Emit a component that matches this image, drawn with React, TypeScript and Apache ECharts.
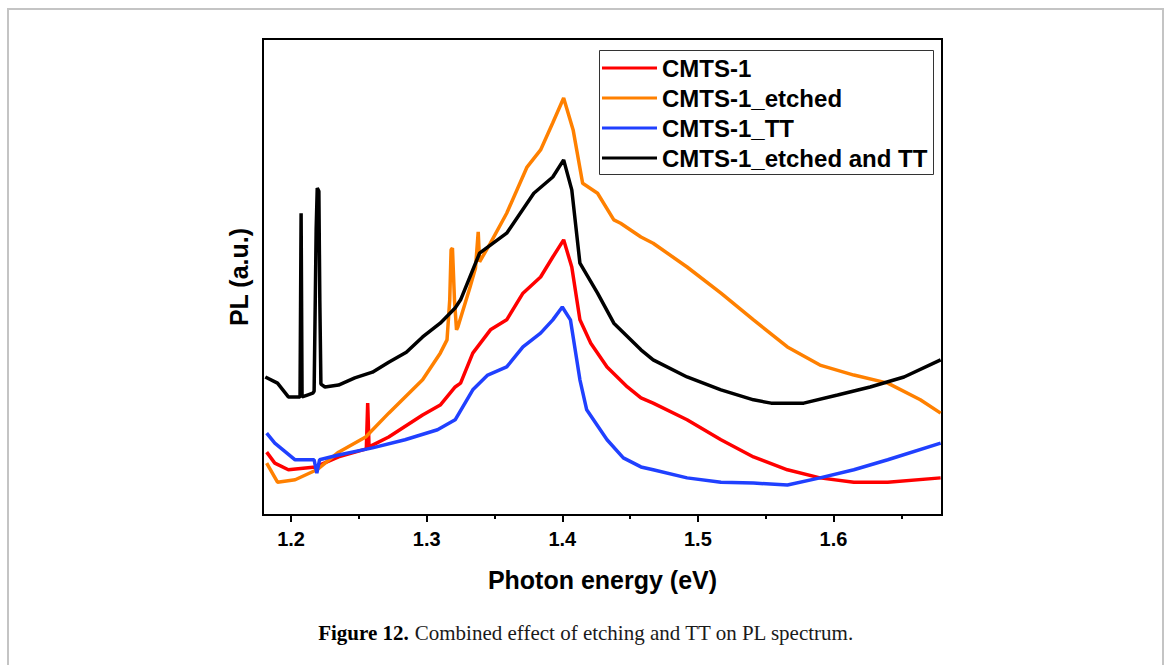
import React, { useEffect, useRef } from "react";
import * as echarts from "echarts";

// ---- data (photon energy in eV, PL in arbitrary units 0-100) ----
const seriesNames = ["CMTS-1", "CMTS-1_etched", "CMTS-1_TT", "CMTS-1_etched and TT"];
const seriesColors = ["#ff0000", "#ff8000", "#2040ff", "#000000"];

const cmts1Energy = [1.182, 1.188, 1.198, 1.218, 1.235, 1.2555, 1.2565, 1.2575, 1.272, 1.297, 1.31, 1.321, 1.325, 1.334, 1.347, 1.359, 1.371, 1.384, 1.393, 1.401, 1.407, 1.413, 1.421, 1.433, 1.448, 1.458, 1.467, 1.492, 1.517, 1.541, 1.566, 1.59, 1.615, 1.64, 1.679];
const cmts1PL = [13.2, 10.9, 9.5, 10.1, 12.2, 13.9, 23.5, 14.3, 16.4, 21.0, 23.1, 26.9, 27.7, 34.0, 38.9, 41.0, 46.6, 50.0, 54.2, 57.8, 52.1, 41.0, 36.1, 31.1, 26.9, 24.6, 23.5, 20.0, 15.8, 12.2, 9.5, 7.8, 6.9, 6.9, 7.8];

const etchedEnergy = [1.182, 1.19, 1.203, 1.219, 1.235, 1.255, 1.272, 1.297, 1.31, 1.315, 1.317, 1.318, 1.319, 1.3205, 1.322, 1.323, 1.332, 1.336, 1.338, 1.339, 1.347, 1.359, 1.374, 1.384, 1.393, 1.401, 1.408, 1.415, 1.426, 1.438, 1.443, 1.458, 1.467, 1.492, 1.517, 1.541, 1.566, 1.59, 1.615, 1.64, 1.664, 1.679];
const etchedPL = [10.9, 6.9, 7.4, 9.5, 13.2, 16.4, 21.4, 28.4, 34.0, 36.8, 45.2, 55.7, 56.1, 45.2, 38.9, 39.5, 47.9, 51.9, 59.5, 53.2, 57.1, 63.4, 73.1, 76.7, 82.4, 87.6, 80.9, 69.7, 67.6, 62.0, 61.3, 58.4, 57.1, 52.1, 46.6, 41.0, 35.3, 31.5, 29.4, 27.7, 24.2, 21.4];

const ttEnergy = [1.182, 1.188, 1.203, 1.217, 1.219, 1.221, 1.235, 1.26, 1.284, 1.308, 1.321, 1.334, 1.345, 1.359, 1.371, 1.384, 1.393, 1.4, 1.406, 1.413, 1.418, 1.433, 1.445, 1.458, 1.467, 1.492, 1.517, 1.541, 1.566, 1.59, 1.615, 1.64, 1.679];
const ttPL = [17.2, 15.1, 11.6, 11.6, 8.8, 11.6, 12.6, 14.1, 15.8, 17.9, 20.0, 26.3, 29.4, 31.1, 35.3, 38.2, 41.0, 43.7, 41.0, 28.4, 22.1, 15.8, 12.0, 10.1, 9.5, 7.8, 6.9, 6.7, 6.3, 7.8, 9.5, 11.6, 15.1];

const etchedTTEnergy = [1.181, 1.19, 1.198, 1.2066, 1.2074, 1.2081, 1.212, 1.216, 1.217, 1.2185, 1.2193, 1.2205, 1.2212, 1.222, 1.225, 1.235, 1.247, 1.26, 1.272, 1.285, 1.297, 1.31, 1.321, 1.325, 1.339, 1.347, 1.359, 1.379, 1.393, 1.401, 1.407, 1.413, 1.426, 1.438, 1.458, 1.467, 1.492, 1.517, 1.541, 1.554, 1.578, 1.603, 1.627, 1.652, 1.679];
const etchedTTPL = [29.0, 27.7, 24.8, 24.8, 63.4, 24.8, 25.2, 25.6, 26.0, 60.0, 68.7, 68.0, 45.0, 27.5, 26.9, 27.3, 28.8, 30.0, 32.1, 34.2, 37.4, 40.3, 43.5, 45.2, 55.0, 56.7, 59.2, 67.6, 71.0, 74.6, 68.3, 52.9, 46.6, 40.3, 34.7, 32.6, 29.0, 26.3, 24.2, 23.5, 23.5, 25.2, 26.9, 29.0, 32.6];

const majorTicks = [1.2, 1.3, 1.4, 1.5, 1.6];
const minorTicks = [1.25, 1.35, 1.45, 1.55, 1.65];
const xMin = 1.1793;
const xMax = 1.68;

const allEnergy = [cmts1Energy, etchedEnergy, ttEnergy, etchedTTEnergy];
const allPL = [cmts1PL, etchedPL, ttPL, etchedTTPL];

export default function App() {
  const ref = useRef<HTMLDivElement>(null);
  useEffect(() => {
    if (!ref.current) return;
    const chart = echarts.init(ref.current, undefined, { renderer: "svg" });
    const sans = "'Liberation Sans', Arial, sans-serif";
    const serif = "'Liberation Serif', 'Times New Roman', serif";
    const series = seriesNames.map((name, i) => ({
      name,
      type: "line",
      symbol: "none",
      data: allEnergy[i].map((e, k) => [e, allPL[i][k]]),
      lineStyle: { color: seriesColors[i], width: 3.5 },
      itemStyle: { color: seriesColors[i] },
      z: 2,
    }));
    chart.setOption({
      animation: false,
      backgroundColor: "#ffffff",
      grid: {
        left: 263,
        top: 39,
        width: 679,
        height: 476,
        show: true,
        borderColor: "#000",
        borderWidth: 2,
        backgroundColor: "transparent",
      },
      xAxis: [
        {
          type: "value",
          min: xMin,
          max: xMax,
          position: "bottom",
          name: "Photon energy (eV)",
          nameLocation: "middle",
          nameGap: 52,
          nameTextStyle: { fontFamily: sans, fontWeight: "bold", fontSize: 25, color: "#000" },
          axisLine: { show: true, lineStyle: { color: "#000", width: 2 } },
          axisTick: { show: true, inside: false, length: 7, customValues: majorTicks, lineStyle: { color: "#000", width: 2 } },
          axisLabel: {
            show: true,
            customValues: majorTicks,
            margin: 14,
            fontFamily: sans,
            fontWeight: "bold",
            fontSize: 20,
            color: "#000",
            formatter: (v: number) => v.toFixed(1),
          },
          splitLine: { show: false },
        },
        {
          type: "value",
          min: xMin,
          max: xMax,
          position: "bottom",
          axisLine: { show: false },
          axisTick: { show: true, inside: false, length: 4, customValues: minorTicks, lineStyle: { color: "#000", width: 2 } },
          axisLabel: { show: false },
          splitLine: { show: false },
        },
      ],
      yAxis: {
        type: "value",
        min: 0,
        max: 100,
        name: "PL (a.u.)",
        nameLocation: "middle",
        nameGap: 12,
        nameRotate: 90,
        nameTextStyle: { fontFamily: sans, fontWeight: "bold", fontSize: 25, color: "#000" },
        axisLine: { show: true, lineStyle: { color: "#000", width: 2 } },
        axisTick: { show: false },
        axisLabel: { show: false },
        splitLine: { show: false },
      },
      legend: {
        orient: "vertical",
        left: 599,
        top: 50,
        padding: [6, 4, 6, 3],
        icon: "rect",
        itemWidth: 55,
        itemHeight: 3,
        itemGap: 6,
        data: seriesNames,
        textStyle: { fontFamily: sans, fontWeight: "bold", fontSize: 24, color: "#000" },
        selectedMode: false,
      },
      graphic: [
        {
          type: "rect",
          shape: { x: 8, y: 9, width: 1155, height: 700 },
          style: { fill: "none", stroke: "#c4c4c4", lineWidth: 2 },
          silent: true,
          z: 0,
        },
        {
          type: "rect",
          shape: { x: 599.5, y: 50.5, width: 334, height: 124 },
          style: { fill: "#fff", stroke: "#333", lineWidth: 1 },
          silent: true,
          z: 3,
        },
        {
          type: "text",
          x: 586,
          y: 633,
          style: {
            text: "{b|Figure 12.} Combined effect of etching and TT on PL spectrum.",
            fontFamily: serif,
            fontSize: 21,
            fill: "#1a1a1a",
            align: "center",
            verticalAlign: "middle",
            rich: {
              b: { fontFamily: serif, fontWeight: "bold", fontSize: 21, fill: "#000" },
            },
          },
          silent: true,
        },
      ],
      series,
    });
    return () => chart.dispose();
  }, []);
  return (
    <div
      ref={ref}
      style={{ position: "fixed", left: 0, top: 0, width: 1167, height: 665, background: "#fff" }}
    />
  );
}
